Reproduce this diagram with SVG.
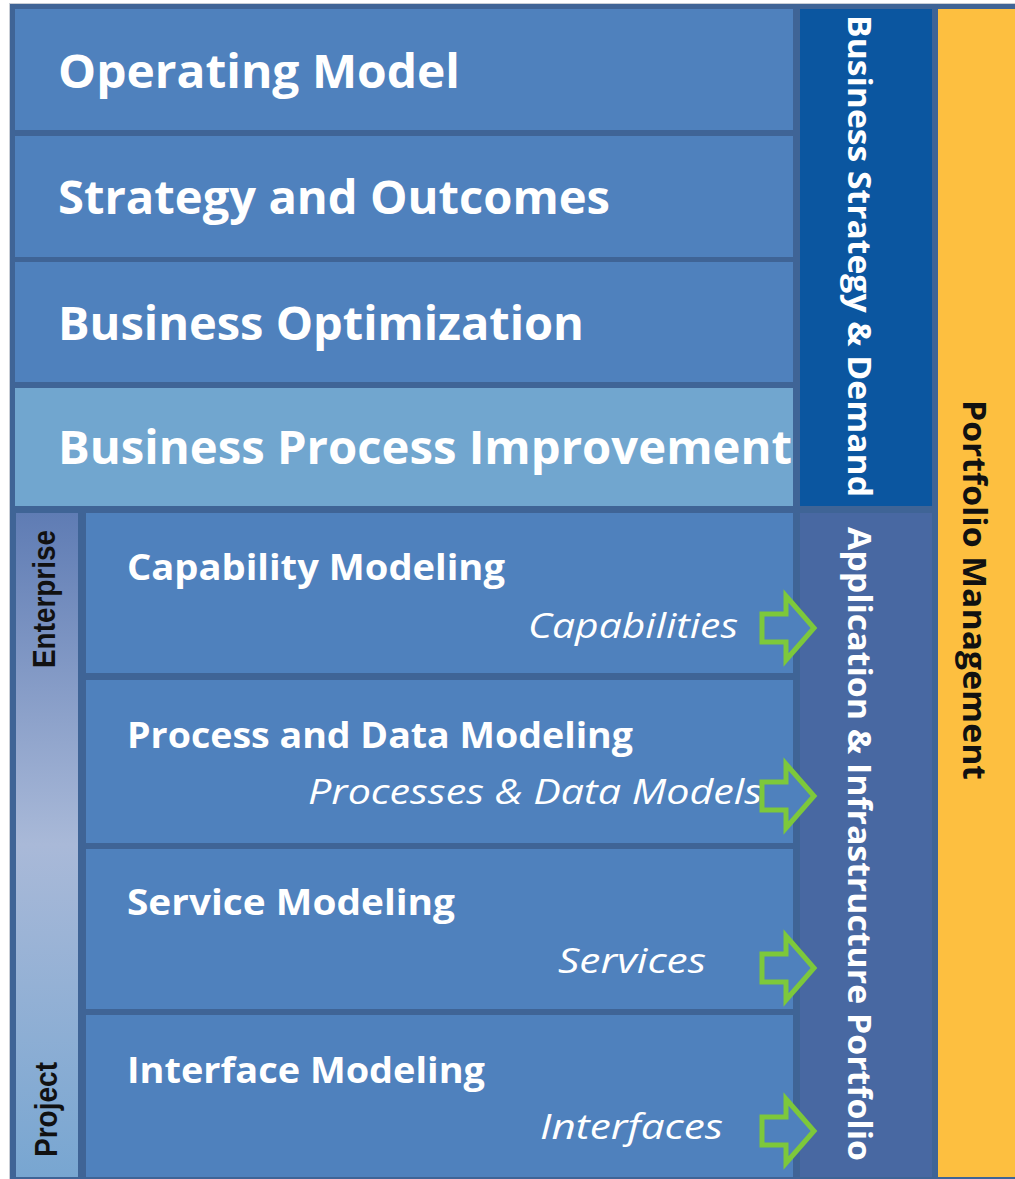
<svg xmlns="http://www.w3.org/2000/svg" width="1015" height="1179" viewBox="0 0 1015 1179">
<defs>
<style>
.box{fill:#4f81bd}
.h1{font-family:"Open Sans","Liberation Sans",sans-serif;font-weight:bold;font-size:47px;fill:#ffffff}
.h2{font-family:"Open Sans","Liberation Sans",sans-serif;font-weight:bold;font-size:35px;fill:#ffffff}
.it{font-family:"Open Sans","Liberation Sans",sans-serif;font-style:italic;font-size:34px;fill:#ffffff}
.vt{font-family:"Open Sans","Liberation Sans",sans-serif;font-weight:bold;font-size:33px;fill:#ffffff}
.vk{font-family:"Open Sans","Liberation Sans",sans-serif;font-weight:bold;font-size:33px;fill:#111111}
.nr{font-family:"Liberation Sans Narrow","Liberation Sans",sans-serif;font-weight:bold;font-size:32px;fill:#111111}
.arr{fill:#4f81bd;stroke:#7dc83b;stroke-width:5;stroke-linejoin:miter}
</style>
<linearGradient id="scale" x1="0" y1="0" x2="0" y2="1">
<stop offset="0" stop-color="#5f7cb4"/>
<stop offset="0.5" stop-color="#a9b9d8"/>
<stop offset="1" stop-color="#78a6d1"/>
</linearGradient>
</defs>
<rect x="0" y="0" width="1015" height="1179" fill="#ffffff"/>
<rect x="9.5" y="3.5" width="1006" height="1176" fill="#3f6496" stroke="#c9ced6" stroke-width="1"/>

<g id="operating-model">
<rect class="box" x="15" y="9" width="778" height="121"/>
<text class="h1" x="58" y="88" textLength="402" lengthAdjust="spacingAndGlyphs">Operating Model</text>
</g>
<g id="strategy-outcomes">
<rect class="box" x="15" y="136" width="778" height="121"/>
<text class="h1" x="58" y="214" textLength="552" lengthAdjust="spacingAndGlyphs">Strategy and Outcomes</text>
</g>
<g id="business-optimization">
<rect class="box" x="15" y="262" width="778" height="120"/>
<text class="h1" x="58" y="340" textLength="526" lengthAdjust="spacingAndGlyphs">Business Optimization</text>
</g>
<g id="bpi">
<rect x="15" y="388" width="778" height="118" fill="#71a6cf"/>
<text class="h1" x="58" y="464" textLength="734" lengthAdjust="spacingAndGlyphs">Business Process Improvement</text>
</g>

<g id="scope-bar">
<rect x="16" y="513" width="62" height="664" fill="url(#scale)"/>
<text class="nr" transform="translate(55,668) rotate(-90)" textLength="138" lengthAdjust="spacingAndGlyphs">Enterprise</text>
<text class="nr" transform="translate(57,1157) rotate(-90)" textLength="95" lengthAdjust="spacingAndGlyphs">Project</text>
</g>

<g id="capability-modeling">
<rect class="box" x="86" y="513" width="707" height="160"/>
<text class="h2" x="127" y="580" textLength="378" lengthAdjust="spacingAndGlyphs">Capability Modeling</text>
<text class="it" x="528" y="638" textLength="210" lengthAdjust="spacingAndGlyphs">Capabilities</text>
</g>
<g id="process-data-modeling">
<rect class="box" x="86" y="680" width="707" height="163"/>
<text class="h2" x="127" y="748" textLength="506" lengthAdjust="spacingAndGlyphs">Process and Data Modeling</text>
<text class="it" x="308" y="804" textLength="454" lengthAdjust="spacingAndGlyphs">Processes &amp; Data Models</text>
</g>
<g id="service-modeling">
<rect class="box" x="86" y="849" width="707" height="160"/>
<text class="h2" x="127" y="915" textLength="328" lengthAdjust="spacingAndGlyphs">Service Modeling</text>
<text class="it" x="558" y="973" textLength="148" lengthAdjust="spacingAndGlyphs">Services</text>
</g>
<g id="interface-modeling">
<rect class="box" x="86" y="1015" width="707" height="162"/>
<text class="h2" x="127" y="1083" textLength="358" lengthAdjust="spacingAndGlyphs">Interface Modeling</text>
<text class="it" x="540" y="1139" textLength="183" lengthAdjust="spacingAndGlyphs">Interfaces</text>
</g>

<g id="business-strategy-demand">
<rect x="800" y="9" width="132" height="497" fill="#0b56a0"/>
<text class="vt" transform="translate(848,15) rotate(90)" textLength="482" lengthAdjust="spacingAndGlyphs">Business Strategy &amp; Demand</text>
</g>
<g id="app-infra-portfolio">
<rect x="800" y="513" width="132" height="664" fill="#4868a2"/>
<text class="vt" transform="translate(848,527) rotate(90)" textLength="634" lengthAdjust="spacingAndGlyphs">Application &amp; Infrastructure Portfolio</text>
</g>
<g id="portfolio-management">
<rect x="938" y="9" width="77" height="1168" fill="#fdbf40"/>
<text class="vk" transform="translate(963,400) rotate(90)" textLength="380" lengthAdjust="spacingAndGlyphs">Portfolio Management</text>
</g>

<g id="connectors">
<path class="arr" d="M762,614 H786 V596 L814,628 L786,660 V642 H762 Z"/>
<path class="arr" d="M762,782 H786 V764 L814,796 L786,828 V810 H762 Z"/>
<path class="arr" d="M762,954 H786 V936 L814,968 L786,1000 V982 H762 Z"/>
<path class="arr" d="M762,1117 H786 V1099 L814,1131 L786,1163 V1145 H762 Z"/>
</g>
</svg>
